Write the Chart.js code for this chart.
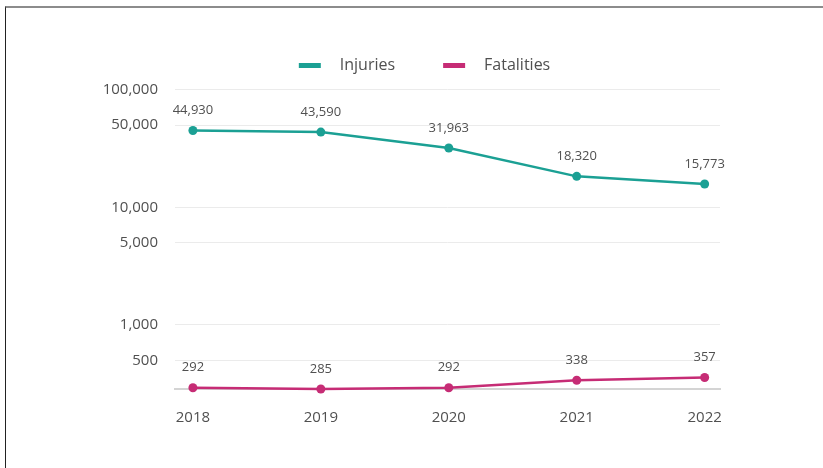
<!DOCTYPE html>
<html>
<head>
<meta charset="utf-8">
<script src="https://cdn.jsdelivr.net/npm/chart.js@4.4.1/dist/chart.umd.min.js"></script>
<style>
  html, body { margin: 0; padding: 0; background: #fff; }
  #frame {
    position: absolute; left: 5px; top: 6px;
    width: 817px; height: 460px;
    border-top: 2px solid #8c8c8c;
    border-left: 1px solid #222;
  }
</style>
</head>
<body>
<div id="frame"><canvas id="myChart"></canvas></div>
<script>
var years = [2018, 2019, 2020, 2021, 2022];
var injuries = [44930, 43590, 31963, 18320, 15773];
var fatalities = [292, 285, 292, 338, 357];
var yTicks = [500, 1000, 5000, 10000, 50000, 100000];

var TEAL = "#1ba094";
var MAGENTA = "#c62c75";
var TEXT = "#505050";
var FONT = "'Open Sans', sans-serif";
var SWATCH_SHIFT = 33; // blank room left of each legend line, moves the legend right

// short thick line used as legend swatch
function swatch(color) {
  var c = document.createElement("canvas");
  c.width = SWATCH_SHIFT + 33;
  c.height = 5;
  var g = c.getContext("2d");
  g.fillStyle = color;
  g.fillRect(SWATCH_SHIFT, 0, 22, 5);
  return c;
}

// value written above each point
var valueLabels = {
  id: "valueLabels",
  afterDatasetsDraw: function (chart) {
    var ctx = chart.ctx;
    ctx.save();
    ctx.font = "13px " + FONT;
    ctx.fillStyle = TEXT;
    ctx.textAlign = "center";
    ctx.textBaseline = "middle";
    chart.data.datasets.forEach(function (ds, i) {
      chart.getDatasetMeta(i).data.forEach(function (pt, j) {
        ctx.fillText(ds.data[j].y.toLocaleString("en-US"), pt.x, pt.y - 20);
      });
    });
    ctx.restore();
  },
};

function points(values) {
  return years.map(function (y, i) {
    return { x: y, y: values[i] };
  });
}

function series(label, values, color) {
  return {
    label: label,
    data: points(values),
    borderColor: color,
    backgroundColor: color,
    pointBackgroundColor: color,
    pointBorderWidth: 0,
    pointRadius: 4.5,
    borderWidth: 2.5,
    tension: 0,
    clip: false,
    swatch: swatch(color),
  };
}

var ctx = document.getElementById("myChart").getContext("2d");
var chart = new Chart(ctx, {
  type: "line",
  data: {
    datasets: [
      series("Injuries", injuries, TEAL),
      series("Fatalities", fatalities, MAGENTA),
    ],
  },
  plugins: [valueLabels],
  options: {
    responsive: true,
    maintainAspectRatio: false,
    animation: false,
    layout: { padding: { left: 90, right: 103, top: 34, bottom: 0 } },
    plugins: {
      tooltip: { enabled: false },
      legend: {
        position: "top",
        labels: {
          usePointStyle: true,
          pointStyleWidth: SWATCH_SHIFT + 33,
          padding: 15,
          color: TEXT,
          font: { family: FONT, size: 16 },
          generateLabels: function (chart) {
            return Chart.defaults.plugins.legend.labels
              .generateLabels(chart)
              .map(function (item) {
                item.pointStyle = chart.data.datasets[item.datasetIndex].swatch;
                return item;
              });
          },
        },
      },
    },
    scales: {
      x: {
        type: "linear",
        min: 2017.86,
        max: 2022.12,
        afterBuildTicks: function (scale) {
          scale.ticks = years.map(function (v) { return { value: v }; });
        },
        afterFit: function (scale) { scale.height = 79; },
        grid: { display: false },
        border: { color: "#d4d4d4", width: 2 },
        ticks: {
          padding: 12,
          color: TEXT,
          font: { family: FONT, size: 15 },
          callback: function (v) { return String(v); },
        },
      },
      y: {
        type: "logarithmic",
        min: 285,
        max: 114000,
        afterBuildTicks: function (scale) {
          scale.ticks = yTicks.map(function (v) { return { value: v }; });
        },
        afterFit: function (scale) { scale.width = 79; },
        grid: { color: "#ebebeb", drawTicks: false },
        border: { display: false },
        ticks: {
          padding: 17,
          color: TEXT,
          font: { family: FONT, size: 15 },
          callback: function (v) { return Number(v).toLocaleString("en-US"); },
        },
      },
    },
  },
});
</script>
</body>
</html>
